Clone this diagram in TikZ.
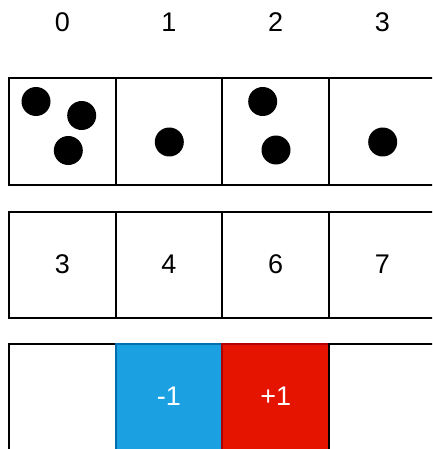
\documentclass[tikz,border=0pt]{standalone}
\usepackage{fontspec}
\setmainfont{Liberation Sans}
\usetikzlibrary{positioning}
\definecolor{CellBlue}{HTML}{1BA1E2}
\definecolor{CellBlueLine}{HTML}{006EAF}
\definecolor{CellRed}{HTML}{E51400}
\definecolor{CellRedLine}{HTML}{B20000}

\begin{document}
\begin{tikzpicture}[x=1pt,y=-1pt,
    node distance=0pt,
    cell/.style={draw,line width=2pt,minimum width=106.7pt,minimum height=106pt,inner sep=0pt,outer sep=0pt,font=\fontsize{27}{32}\selectfont},
    opencell/.style={cell,minimum height=120pt,text depth=14pt},
    idx/.style={font=\fontsize{27}{32}\selectfont}
  ]
  \useasboundingbox (0,0) rectangle (432,449);
  \clip (0,0) rectangle (432,449);
  % bins with balls
  \node[cell] (b0) at (62.3,131.5) {};
  \foreach \i [count=\j from 0] in {1,2,3}
    \node[cell,right=of b\j] (b\i) {};
  \foreach \i in {0,...,3}
    \node[idx] (l\i) at (b\i |- 0,22.5) {\i};
  \fill (36,101.5) circle (14.5pt);
  \fill (81.7,115.5) circle (14.5pt);
  \fill (68.3,150.5) circle (14.5pt);
  \fill (169.3,142) circle (14.5pt);
  \fill (262.7,101.5) circle (14.5pt);
  \fill (276,150) circle (14.5pt);
  \fill (382.7,142) circle (14.5pt);
  % counts
  \node[cell,below=27pt of b0] (n0) {3};
  \node[cell,right=of n0] (n1) {4};
  \node[cell,right=of n1] (n2) {6};
  \node[cell,right=of n2] (n3) {7};
  % moves
  \node[opencell,below=26pt of n0] (d0) {};
  \node[opencell,right=of d0,fill=CellBlue,draw=CellBlueLine,text=white] (d1) {-1};
  \node[opencell,right=of d1,fill=CellRed,draw=CellRedLine,text=white] (d2) {+1};
  \node[opencell,right=of d2] (d3) {};
\end{tikzpicture}
\end{document}
